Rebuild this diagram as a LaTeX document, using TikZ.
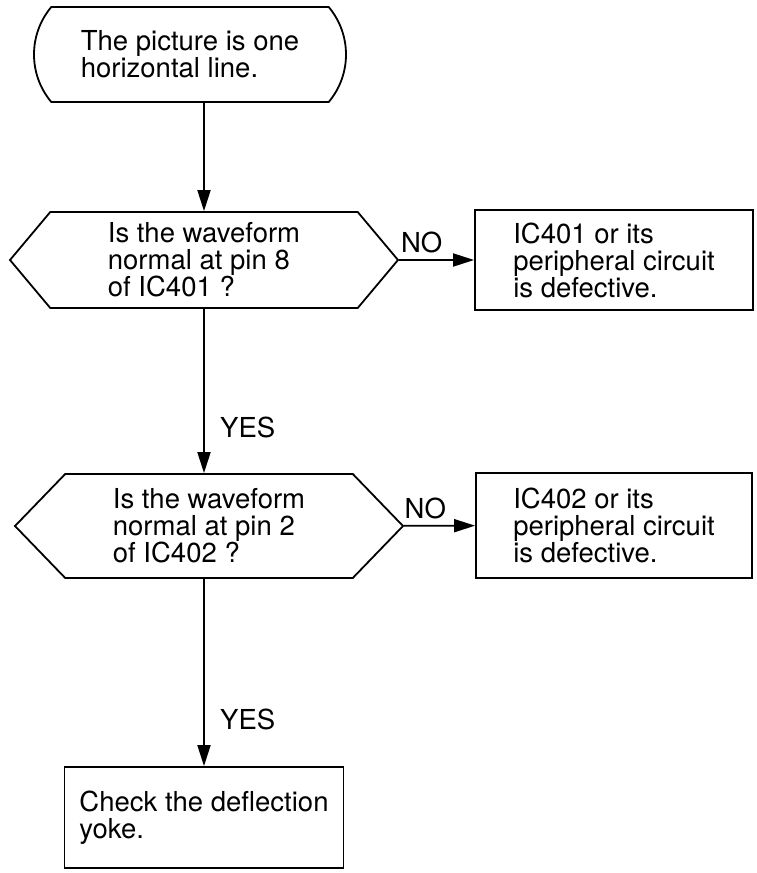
\documentclass[tikz,border=0pt]{standalone}
\usepackage{fontspec}
\setmainfont{TeX Gyre Heros}
\usetikzlibrary{shapes.misc, shapes.symbols, arrows.meta, positioning}

\begin{document}
\begin{tikzpicture}[
  x=1pt, y=-1pt,
  every node/.style={font=\fontsize{27.5}{27}\selectfont},
  box/.style={draw, line width=1.8pt, align=left, inner sep=0pt},
  check/.style={draw, signal, signal to=east and west, line width=1.8pt, align=left, inner sep=0pt},
  flow/.style={-{Triangle[length=21pt, width=13pt]}, line width=1.8pt},
]
  \useasboundingbox (0,0) rectangle (757,873);

  \node[box, rounded rectangle, rounded rectangle arc length=80,
        minimum width=312pt, minimum height=95pt] (start) at (190,54.5)
        {The picture is one\\horizontal line.};

  \node[check, signal pointer angle=100, minimum width=388pt, minimum height=96pt] (pin8) at (204,260)
        {Is the waveform\\normal at pin 8\\of IC401 ?};
  \node[box, minimum width=278pt, minimum height=100pt] (ic401) at (614,260)
        {IC401 or its\\peripheral circuit\\is defective.};

  \node[check, signal pointer angle=92, minimum width=388pt, minimum height=104pt] (pin2) at (209,526)
        {Is the waveform\\normal at pin 2\\of IC402 ?};
  \node[box, minimum width=276pt, minimum height=105pt] (ic402) at (614,525.5)
        {IC402 or its\\peripheral circuit\\is defective.};

  \node[box, minimum width=279pt, minimum height=101pt] (yoke) at (204,817.5)
        {Check the deflection\\yoke.};

  \draw[flow] (pin8.north |- start.south) -- (pin8.north);
  \draw[flow] (pin8) -- (ic401) node[pos=0.3, above=3pt] (no1) {NO};
  \draw[flow] (pin8.south) -- (pin8.south |- pin2.north) node[pos=0.72, right=12pt] (yes1) {YES};
  \draw[flow] (pin2) -- (ic402) node[pos=0.3, above=3pt] (no2) {NO};
  \draw[flow] (pin2.south -| yoke.north) -- (yoke.north) node[pos=0.75, right=12pt] (yes2) {YES};
\end{tikzpicture}
\end{document}
